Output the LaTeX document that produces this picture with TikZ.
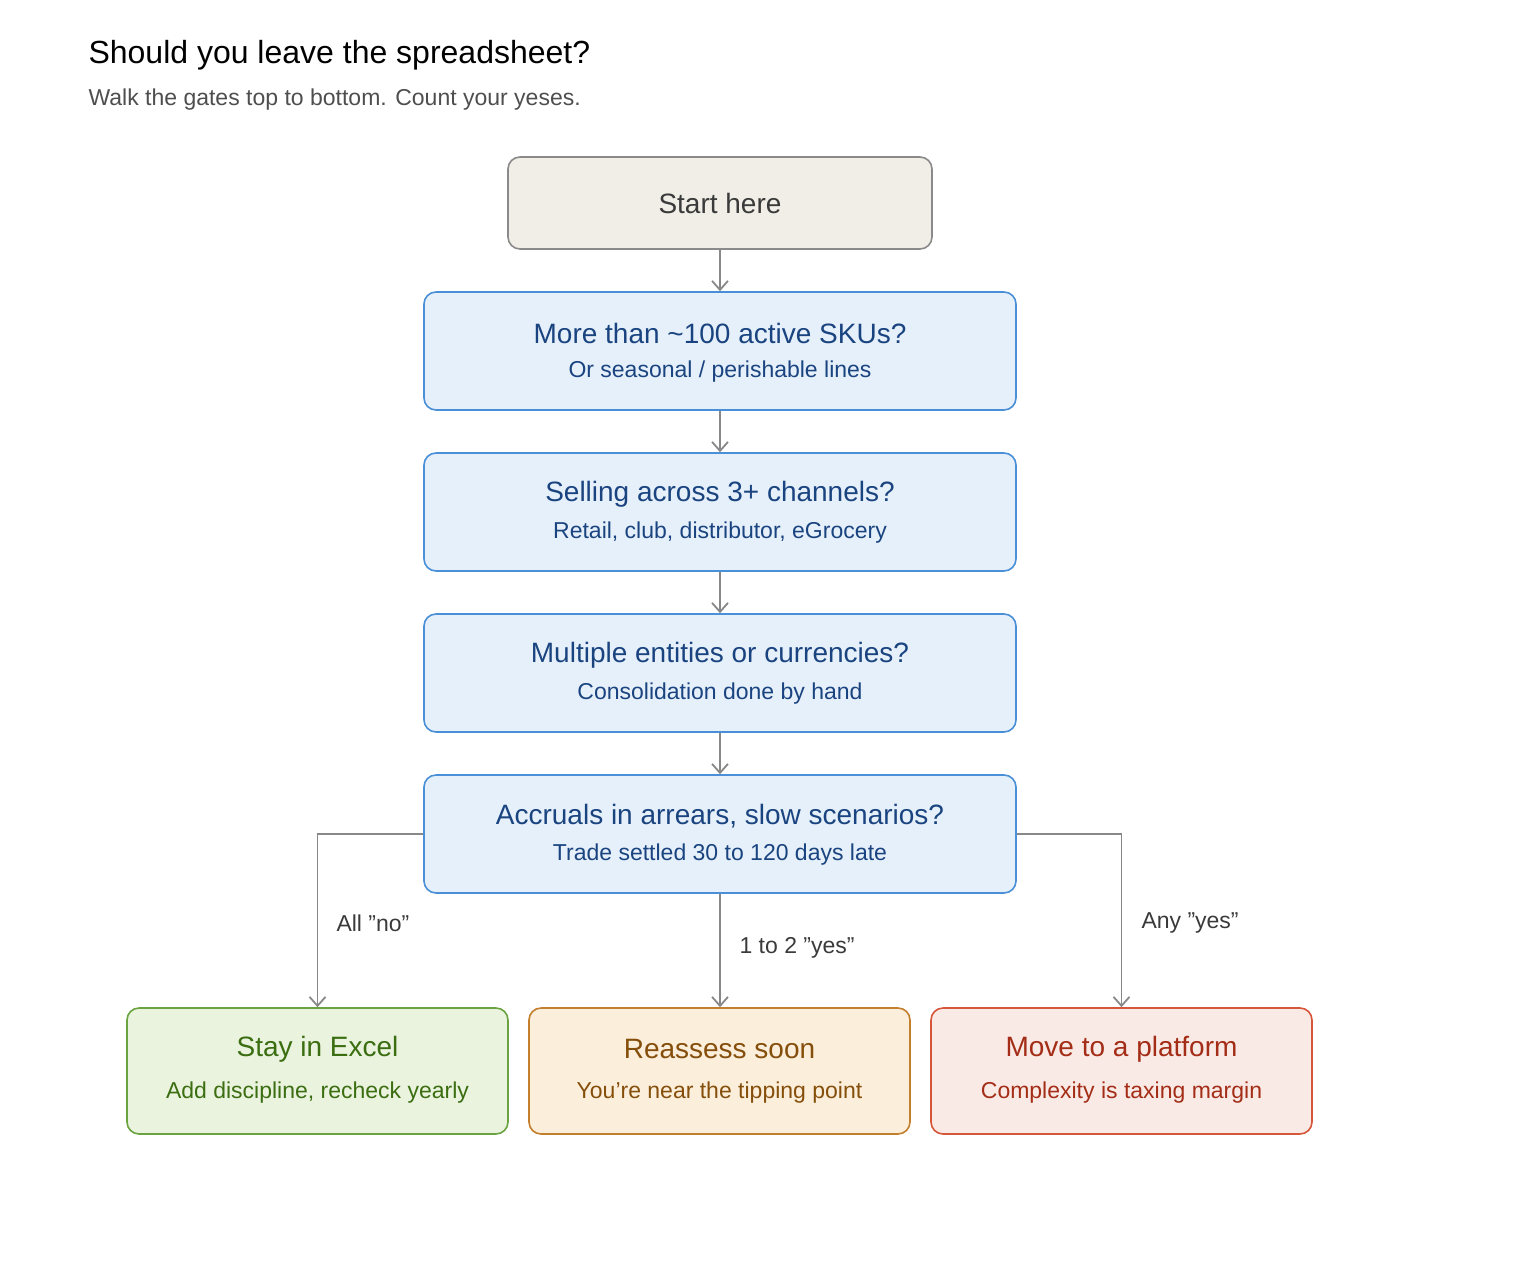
\documentclass[tikz,border=0pt]{standalone}
\usepackage{fontspec}
\setmainfont{Liberation Sans}
\usetikzlibrary{arrows.meta}
\definecolor{gbd}{HTML}{4A90D9}\definecolor{gfl}{HTML}{E6F0FA}\definecolor{gtx}{HTML}{1A4480}
\definecolor{sfl}{HTML}{F1EEE8}\definecolor{sbd}{HTML}{8A8A8A}\definecolor{stx}{HTML}{3A3A3A}
\definecolor{grfl}{HTML}{EAF3DE}\definecolor{grbd}{HTML}{6AA33F}\definecolor{grtx}{HTML}{3B6D11}
\definecolor{orfl}{HTML}{FBEEDB}\definecolor{orbd}{HTML}{C47F2C}\definecolor{ortx}{HTML}{854F0B}
\definecolor{rdfl}{HTML}{FAEAE6}\definecolor{rdbd}{HTML}{D6563A}\definecolor{rdtx}{HTML}{A32D16}
\definecolor{ln}{HTML}{888888}
\begin{document}
\begin{tikzpicture}[x=1pt,y=-1pt,
 box/.style={draw,line width=1.6pt,rounded corners=12pt,inner sep=0pt,align=center},
 gate/.style={box,draw=gbd,fill=gfl,text=gtx,minimum width=592pt,minimum height=118pt},
 outc/.style={box,minimum width=381pt,minimum height=126pt},
 big/.style={font=\fontsize{28}{34}\selectfont},
 arr/.style={draw=ln,line width=1.8pt,-{Straight Barb[length=9pt,width=16pt,line width=1.8pt]}},
 lab/.style={text=stx,font=\fontsize{23}{28}\selectfont,anchor=west}]
\useasboundingbox (0,0) rectangle (1520,1272);
\node[anchor=base west,font=\fontsize{32}{38}\selectfont] (t) at (85,63) {Should you leave the spreadsheet?};
\node[anchor=base west,text=stx!90,font=\fontsize{23}{28}\selectfont] (st) at (85,105) {Walk the gates top to bottom. Count your yeses.};
\node[box,draw=sbd,fill=sfl,text=stx,minimum width=424pt,minimum height=92pt,big] (s) at (720,203) {Start here};
\newcommand\gt[4]{\node[gate] (#1) at (720,#2) {}; \node[text=gtx,big] (#1a) at (720,#2-18) {#3}; \node[text=gtx,font=\fontsize{23}{28}\selectfont] (#1b) at (720,#2+21) {#4};}
\gt{g1}{351}{More than \textasciitilde100 active SKUs?}{Or seasonal / perishable lines}
\gt{g2}{512}{Selling across 3+ channels?}{Retail, club, distributor, eGrocery}
\gt{g3}{673}{Multiple entities or currencies?}{Consolidation done by hand}
\gt{g4}{834}{Accruals in arrears, slow scenarios?}{Trade settled 30 to 120 days late}
\newcommand\oc[6]{\node[outc,draw=#4,fill=#5] (#1) at (#2,1071) {}; \node[text=#6,big] (#1a) at (#2,1049) {#3};}
\oc{o1}{317.5}{Stay in Excel}{grbd}{grfl}{grtx}
\node[text=grtx,font=\fontsize{23}{28}\selectfont] (o1b) at (317.5,1093) {Add discipline, recheck yearly};
\oc{o2}{719.5}{Reassess soon}{orbd}{orfl}{ortx}
\node[text=ortx,font=\fontsize{23}{28}\selectfont] (o2b) at (719.5,1093) {You're near the tipping point};
\oc{o3}{1121.5}{Move to a platform}{rdbd}{rdfl}{rdtx}
\node[text=rdtx,font=\fontsize{23}{28}\selectfont] (o3b) at (1121.5,1093) {Complexity is taxing margin};
\draw[arr] (s) -- (g1);
\draw[arr] (g1) -- (g2);
\draw[arr] (g2) -- (g3);
\draw[arr] (g3) -- (g4);
\draw[arr] (g4.south) -- (g4.south |- o2.north);
\draw[arr] (g4.west) -| (o1.north);
\draw[arr] (g4.east) -| (o3.north);
\node[lab] (l1) at (333,923) {All "no"};
\node[lab] (l2) at (736,948) {1 to 2 "yes"};
\node[lab] (l3) at (1138,923) {Any "yes"};
\end{tikzpicture}
\end{document}
